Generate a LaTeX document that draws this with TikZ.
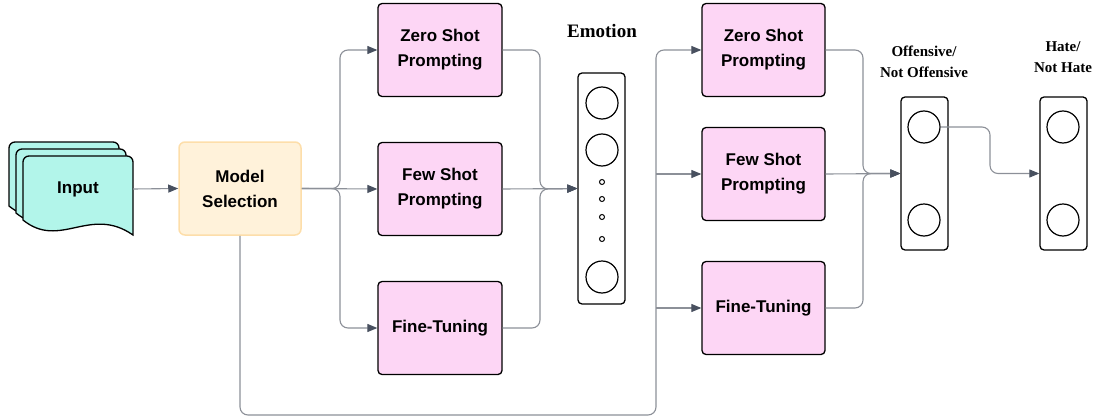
\documentclass[tikz,border=0pt]{standalone}
\usepackage{fontspec}
\setmainfont{Liberation Serif}
\setsansfont{Liberation Sans}
\usetikzlibrary{arrows.meta}
\definecolor{pinkfill}{RGB}{253,214,245}
\definecolor{creamfill}{RGB}{255,242,218}
\definecolor{creamline}{RGB}{253,222,170}
\definecolor{tealfill}{RGB}{178,245,234}
\definecolor{wire}{RGB}{140,144,152}
\definecolor{tipcol}{RGB}{72,80,95}
\begin{document}
\begin{tikzpicture}[
      x=1pt, y=-1pt,
      lbl/.style={font=\bfseries\fontsize{15}{21}\selectfont, align=center},
      method/.style={draw, line width=1.3pt, rounded corners=4pt, fill=pinkfill, align=center,
                     font=\sffamily\bfseries\fontsize{17}{25}\selectfont,
                     minimum width=124pt, minimum height=93pt, inner sep=0pt},
      selbox/.style={draw=creamline, line width=1.5pt, rounded corners=6pt, fill=creamfill, align=center,
                     font=\sffamily\bfseries\fontsize{17}{25}\selectfont,
                     minimum width=122pt, minimum height=93pt, inner sep=0pt},
      layer/.style={draw, line width=1.3pt, rounded corners=4pt, minimum width=47pt, inner sep=0pt},
      neuron/.style={draw, circle, line width=1.2pt, minimum size=32pt, inner sep=0pt},
      dot/.style={draw, circle, line width=1pt, minimum size=5pt, inner sep=0pt},
      sheet/.style={draw, line width=1.3pt, fill=tealfill},
      flow/.style={draw=wire, line width=1.1pt, rounded corners=8pt,
                   -{Triangle[length=10pt,width=8pt,color=tipcol]}},
      wire/.style={draw=wire, line width=1.1pt, rounded corners=8pt}
    ]
    \useasboundingbox (0,0) rectangle (1097,420);

    % input stack
    \foreach \d in {14,7,0}
      \path[sheet, shift={(-\d,-\d)}] (23,220) [rounded corners=6pt] -- (23,156) -- (133,156) -- (133,190)
        [sharp corners] -- (133,235) .. controls (90,205) and (60,250) .. (23,220) -- cycle;
    \node[font=\sffamily\bfseries\fontsize{17}{20}\selectfont, minimum width=110pt, minimum height=60pt] (input) at (78,189) {Input};

    \node[selbox] (ms) at (240,188.5) {Model\\ Selection};

    \node[method] (zs1) at (440,50)  {Zero Shot\\ Prompting};
    \node[method] (fs1) at (440,189) {Few Shot\\ Prompting};
    \node[method] (ft1) at (440,328) {Fine-Tuning};

    % emotion layer
    \node[layer, minimum height=231pt] (emo) at (601.5,188.5) {};
    \node[lbl, font=\bfseries\fontsize{19}{21}\selectfont] (emolbl) at (602,31) {Emotion};
    \node[neuron] (e1) at (602,103) {};
    \node[neuron] (e2) at (602,150) {};
    \node[neuron] (e3) at (602,277) {};
    \foreach \y in {182,199,217,239}
      \node[dot] at (602,\y) {};

    \node[method, minimum width=123pt] (zs2) at (763.5,50)  {Zero Shot\\ Prompting};
    \node[method, minimum width=123pt] (fs2) at (763.5,174) {Few Shot\\ Prompting};
    \node[method, minimum width=123pt] (ft2) at (763.5,308) {Fine-Tuning};

    % output layers
    \node[layer, minimum height=153pt] (off) at (924.5,173.5) {};
    \node[neuron] (o1) at (924,127) {};
    \node[neuron] (o2) at (924,220) {};
    \node[lbl] (offlbl) at (924,62) {Offensive/\\ Not Offensive};

    \node[layer, minimum height=153pt] (hate) at (1063.5,173.5) {};
    \node[neuron] (h1) at (1063,127) {};
    \node[neuron] (h2) at (1063,220) {};
    \node[lbl] (hatelbl) at (1063,57) {Hate/\\ Not Hate};

    \coordinate (split1) at (340,188.5);
    \coordinate (merge1) at (540,189);
    \coordinate (busb) at (656,415);
    \coordinate (merge2) at (863,173.5);
    \coordinate (bend) at (990,127);

    \draw[flow] (input.east) -- (ms.west);
    \draw[flow] (ms.east) -- (split1) |- (zs1.west);
    \draw[flow] (ms.east) -- (fs1.west);
    \draw[flow] (ms.east) -- (split1) |- (ft1.west);
    \draw[flow] (zs1.east) -| (merge1) -- (emo.west);
    \draw[flow] (fs1.east) -- (emo.west);
    \draw[flow] (ft1.east) -| (merge1) -- (emo.west);

    \draw[flow] (ms.south) |- (busb) |- (zs2.west);
    \draw[flow] (fs2.west -| busb) -- (fs2.west);
    \draw[flow] (ft2.west -| busb) -- (ft2.west);

    \draw[flow] (zs2.east) -| (merge2) -- (off.west);
    \draw[flow] (fs2.east) -- (off.west);
    \draw[flow] (ft2.east) -| (merge2) -- (off.west);
    \draw[flow] (o1.east) -- (bend) |- (hate.west);
\end{tikzpicture}
\end{document}
